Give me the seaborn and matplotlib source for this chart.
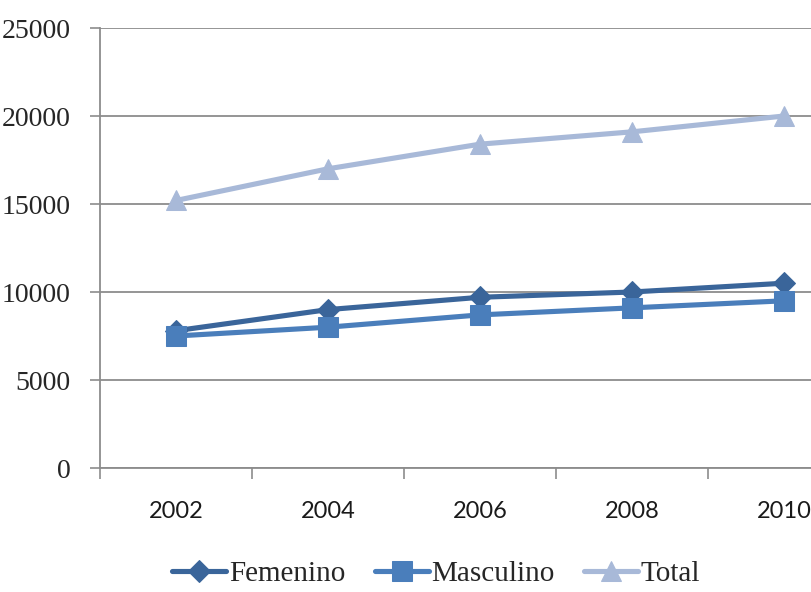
import pandas as pd
import matplotlib.pyplot as plt
import seaborn as sns

# --- Datos ---
anios = ['2002', '2004', '2006', '2008', '2010']
femenino = [7800, 9000, 9700, 10000, 10500]
masculino = [7500, 8000, 8700, 9100, 9500]
total = [15200, 17000, 18400, 19100, 20000]

series = ['Femenino', 'Masculino', 'Total']
colores = {'Femenino': '#3A659A', 'Masculino': '#4A7EBB', 'Total': '#A8B9D8'}
marcadores = {'Femenino': 'D', 'Masculino': 's', 'Total': '^'}
tam_marcador = {'Femenino': 11, 'Masculino': 14.5, 'Total': 15}

df = pd.DataFrame({
    'Anio': anios * 3,
    'pos': list(range(len(anios))) * 3,
    'Valor': femenino + masculino + total,
    'Serie': ['Femenino'] * 5 + ['Masculino'] * 5 + ['Total'] * 5,
})

sns.set_style("white")
fig = plt.figure(figsize=(8.11, 5.92), dpi=100)
ax = fig.add_axes([100 / 811, 124 / 592, 760 / 811, 440 / 592])

for s in series:
    sub = df[df['Serie'] == s]
    sns.lineplot(data=sub, x='pos', y='Valor', color=colores[s], marker=marcadores[s],
                 markersize=tam_marcador[s], markeredgecolor=colores[s], linewidth=3.7,
                 label=s, ax=ax, legend=False)

ax.set_xlim(-0.5, 4.5)
ax.set_ylim(0, 25000)
ax.set_yticks(range(0, 25001, 5000))
ax.yaxis.grid(True, color='#8C8C8C', linewidth=1.3)
ax.set_axisbelow(True)

# eje x por categorías: marcas en los límites, etiquetas en el centro
ax.set_xticks([-0.5, 0.5, 1.5, 2.5, 3.5, 4.5])
ax.set_xticklabels([])
ax.set_xticks(range(len(anios)), minor=True)
ax.set_xticklabels(anios, minor=True, fontsize=17, fontfamily='Lato', color='#1a1a1a')
ax.tick_params(axis='x', which='major', direction='out', length=8, width=1.2, color='#8C8C8C', bottom=True)
ax.tick_params(axis='x', which='minor', length=0, pad=24)
ax.tick_params(axis='y', direction='out', length=7, width=1.2, color='#8C8C8C', left=True, pad=14)
for lbl in ax.get_yticklabels():
    lbl.set_fontfamily('Liberation Serif')
    lbl.set_fontsize(20)

for lado in ['top', 'right']:
    ax.spines[lado].set_visible(False)
for lado in ['left', 'bottom']:
    ax.spines[lado].set_color('#8C8C8C')
    ax.spines[lado].set_linewidth(1.3)

ax.set_xlabel('')
ax.set_ylabel('')

handles, labels = ax.get_legend_handles_labels()
fig.legend(handles, labels, loc='center', bbox_to_anchor=(0.538, 0.03), ncol=3,
           frameon=False, prop={'family': 'Liberation Serif', 'size': 21},
           handlelength=1.85, handletextpad=0.1, columnspacing=1.0, borderaxespad=0)

plt.savefig('out.png', dpi=100)
plt.close()
